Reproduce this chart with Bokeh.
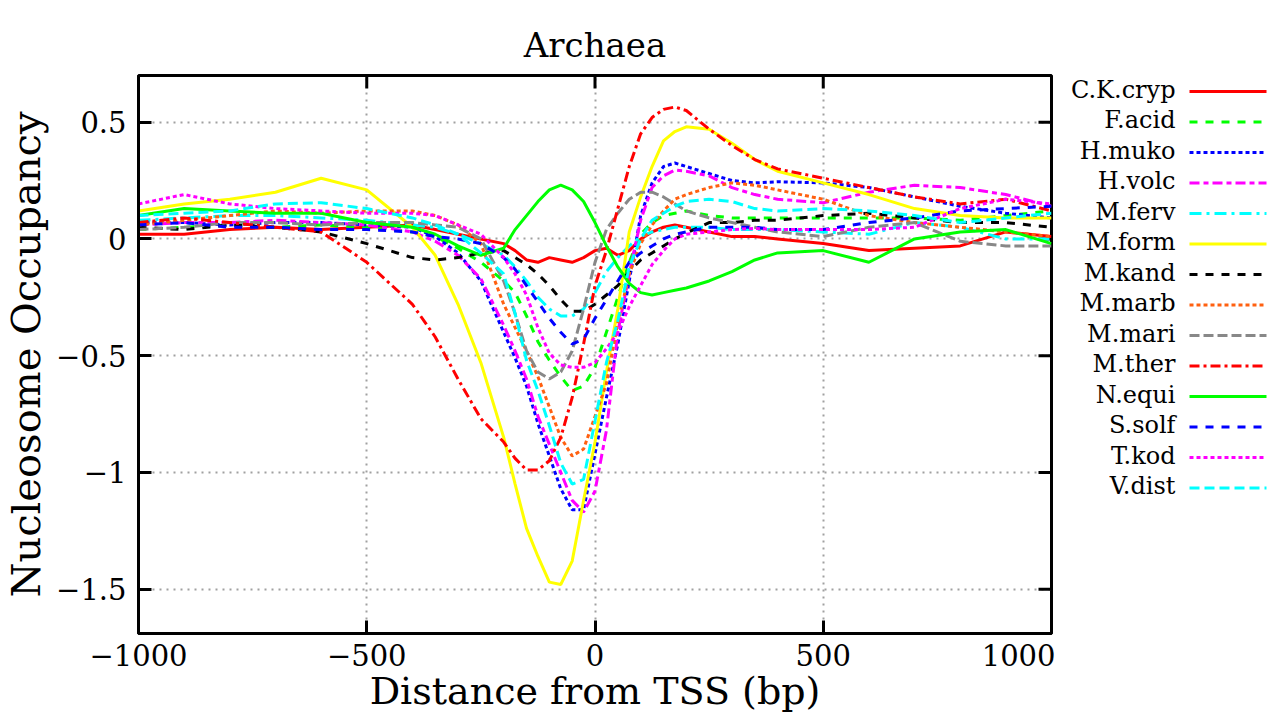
import math
from bokeh.plotting import figure
from bokeh.layouts import row
from bokeh.models import FixedTicker, Range1d
from bokeh.core.properties import value
from bokeh.embed import file_html
from bokeh.resources import INLINE

# ---------------- data ----------------
X = [-1000, -900, -800, -700, -600, -500, -400, -350, -300, -250, -200, -175, -150, -125,
     -100, -75, -50, -25, 0, 25, 50, 75, 100, 125, 150, 175, 200, 250, 300, 350, 400,
     500, 600, 700, 800, 900, 1000]

ck_cryp = [0.02, 0.02, 0.04, 0.05, 0.04, 0.05, 0.06, 0.04, 0.02, 0.00, -0.02, -0.05, -0.09, -0.10,
           -0.08, -0.09, -0.10, -0.08, -0.05, -0.04, -0.07, -0.05, 0.00, 0.03, 0.05, 0.06, 0.05,
           0.03, 0.01, 0.01, 0.00, -0.02, -0.05, -0.04, -0.03, 0.03, 0.01]
f_acid = [0.04, 0.05, 0.06, 0.05, 0.06, 0.05, 0.03, 0.01, -0.04, -0.10, -0.18, -0.23, -0.33, -0.44,
          -0.52, -0.59, -0.65, -0.63, -0.55, -0.40, -0.25, -0.10, 0.02, 0.07, 0.10, 0.11, 0.12,
          0.10, 0.09, 0.09, 0.09, 0.09, 0.09, 0.09, 0.08, 0.10, 0.12]
h_muko = [0.07, 0.07, 0.06, 0.07, 0.07, 0.06, 0.05, 0.01, -0.06, -0.18, -0.40, -0.51, -0.63, -0.79,
          -0.93, -1.07, -1.16, -1.16, -0.92, -0.68, -0.45, -0.18, 0.10, 0.24, 0.31, 0.325, 0.31,
          0.28, 0.25, 0.24, 0.245, 0.24, 0.22, 0.18, 0.14, 0.11, 0.09]
h_volc = [0.06, 0.07, 0.07, 0.08, 0.07, 0.06, 0.03, -0.01, -0.07, -0.17, -0.37, -0.48, -0.60, -0.76,
          -0.88, -1.00, -1.12, -1.17, -1.08, -0.82, -0.40, -0.15, 0.08, 0.22, 0.27, 0.295, 0.29,
          0.27, 0.22, 0.19, 0.17, 0.155, 0.20, 0.23, 0.22, 0.19, 0.14]
m_ferv = [0.08, 0.09, 0.10, 0.10, 0.09, 0.08, 0.06, 0.05, 0.02, -0.02, -0.07, -0.12, -0.18, -0.25,
          -0.30, -0.33, -0.33, -0.30, -0.23, -0.14, -0.08, -0.03, 0.01, 0.03, 0.04, 0.05, 0.05,
          0.05, 0.04, 0.04, 0.04, 0.03, 0.02, 0.07, 0.05, 0.00, 0.00]
m_form = [0.12, 0.15, 0.17, 0.20, 0.26, 0.21, 0.05, -0.07, -0.28, -0.53, -0.85, -1.05, -1.24, -1.36,
          -1.47, -1.48, -1.38, -1.12, -0.87, -0.57, -0.30, 0.03, 0.18, 0.31, 0.42, 0.46, 0.48,
          0.47, 0.41, 0.34, 0.29, 0.24, 0.19, 0.13, 0.10, 0.09, 0.09]
m_kand = [0.05, 0.04, 0.06, 0.05, 0.03, -0.02, -0.08, -0.09, -0.08, -0.06, -0.05, -0.08, -0.11, -0.15,
          -0.20, -0.26, -0.31, -0.31, -0.28, -0.24, -0.20, -0.14, -0.09, -0.06, -0.03, 0.00, 0.025,
          0.07, 0.07, 0.08, 0.08, 0.10, 0.11, 0.09, 0.07, 0.07, 0.05]
m_marb = [0.06, 0.08, 0.10, 0.12, 0.11, 0.12, 0.12, 0.10, 0.06, -0.02, -0.28, -0.38, -0.48, -0.59,
          -0.72, -0.85, -0.93, -0.90, -0.76, -0.62, -0.36, -0.15, -0.02, 0.06, 0.12, 0.17, 0.19,
          0.22, 0.24, 0.23, 0.21, 0.17, 0.10, 0.07, 0.05, 0.03, 0.01]
m_mari = [0.04, 0.05, 0.07, 0.07, 0.06, 0.07, 0.07, 0.06, 0.05, 0.00, -0.18, -0.32, -0.48, -0.57,
          -0.60, -0.57, -0.48, -0.30, -0.10, 0.04, 0.11, 0.17, 0.20, 0.20, 0.18, 0.15, 0.12,
          0.09, 0.07, 0.05, 0.03, 0.01, 0.05, 0.07, -0.01, -0.03, -0.03]
m_ther = [0.07, 0.09, 0.07, 0.05, 0.03, -0.10, -0.28, -0.42, -0.60, -0.77, -0.87, -0.94, -0.99, -0.99,
          -0.95, -0.85, -0.68, -0.45, -0.20, -0.05, 0.13, 0.31, 0.45, 0.52, 0.555, 0.565, 0.55,
          0.47, 0.40, 0.34, 0.30, 0.26, 0.22, 0.18, 0.15, 0.17, 0.12]
n_equi = [0.10, 0.13, 0.12, 0.11, 0.11, 0.07, 0.05, 0.02, -0.03, -0.07, -0.04, 0.04, 0.10, 0.16,
          0.21, 0.23, 0.21, 0.16, 0.07, -0.03, -0.12, -0.19, -0.23, -0.24, -0.23, -0.22, -0.21,
          -0.18, -0.14, -0.09, -0.06, -0.05, -0.10, 0.00, 0.03, 0.04, -0.02]
s_solf = [0.06, 0.07, 0.05, 0.05, 0.04, 0.04, 0.03, 0.01, 0.00, -0.02, -0.08, -0.13, -0.20, -0.27,
          -0.34, -0.40, -0.45, -0.43, -0.34, -0.26, -0.18, -0.10, -0.06, -0.03, 0.00, 0.02, 0.03,
          0.05, 0.05, 0.05, 0.04, 0.04, 0.07, 0.09, 0.12, 0.13, 0.14]
t_kod = [0.15, 0.19, 0.15, 0.13, 0.12, 0.11, 0.11, 0.10, 0.06, 0.02, -0.08, -0.15, -0.24, -0.38,
         -0.49, -0.54, -0.55, -0.55, -0.53, -0.47, -0.40, -0.29, -0.20, -0.11, -0.05, 0.00, 0.02,
         0.03, 0.04, 0.045, 0.04, 0.04, 0.04, 0.05, 0.13, 0.17, 0.15]
v_dist = [0.10, 0.11, 0.12, 0.15, 0.155, 0.13, 0.09, 0.06, 0.02, -0.06, -0.15, -0.32, -0.52, -0.65,
          -0.80, -0.96, -1.05, -1.03, -0.78, -0.53, -0.35, -0.12, 0.00, 0.08, 0.11, 0.14, 0.16,
          0.17, 0.16, 0.13, 0.12, 0.13, 0.12, 0.10, 0.07, 0.09, 0.11]

NAMES = ["C.K.cryp", "F.acid", "H.muko", "H.volc", "M.ferv", "M.form", "M.kand",
         "M.marb", "M.mari", "M.ther", "N.equi", "S.solf", "T.kod", "V.dist"]
SERIES = [ck_cryp, f_acid, h_muko, h_volc, m_ferv, m_form, m_kand,
          m_marb, m_mari, m_ther, n_equi, s_solf, t_kod, v_dist]
COLORS = ["#ff0000", "#00ff00", "#0000ff", "#ff00ff", "#00ffff", "#ffff00", "#000000",
          "#ff6010", "#888888", "#ff0000", "#00ff00", "#0000ff", "#ff00ff", "#00ffff"]
DASHES = ["solid", "8 8", "4 3", "10 4 5 4", "12 5 3 5", "solid", "8 8",
          "4 3", "10 4", "10 4 3 4", "solid", "8 8", "4 3", "10 5"]

TITLE = "Archaea"
X_MIN, X_MAX = -1000, 1000
Y_MIN, Y_MAX = -1.69, 0.70
X_TICKS = [-1000, -500, 0, 500, 1000]
X_LABELS = ["\u22121000", "\u2212500", "0", "500", "1000"]
Y_TICKS = [0.5, 0, -0.5, -1, -1.5]
Y_LABELS = ["0.5", "0", "\u22120.5", "\u22121", "\u22121.5"]

FONT = "DejaVu Serif"

# ---------------- main plot ----------------
p = figure(width=1055, height=722, x_range=Range1d(X_MIN, X_MAX), y_range=Range1d(Y_MIN, Y_MAX),
           output_backend="svg", toolbar_location=None, title=TITLE,
           min_border_left=138, min_border_right=4, min_border_top=75, min_border_bottom=89)
p.background_fill_color = "white"
p.border_fill_color = "white"
p.outline_line_color = "black"
p.outline_line_width = 3

p.title.align = "center"
p.title.vertical_align = "top"
p.title.text_font = FONT
p.title.text_font_size = "34px"
p.title.text_font_style = "normal"
p.title.text_color = "black"
p.title.standoff = 18

xax = p.below[0]
yax = p.left[0]
for ax in (xax, yax):
    ax.axis_line_width = 3
    ax.axis_line_color = "black"
    ax.major_tick_in = 13
    ax.major_tick_out = 0
    ax.major_tick_line_width = 3
    ax.minor_tick_line_color = None
    ax.major_label_text_font = FONT
    ax.major_label_text_font_size = "29px"
    ax.major_label_text_color = "black"
    ax.axis_label_text_font = FONT
    ax.axis_label_text_font_style = "normal"
    ax.axis_label_text_color = "black"

xax.ticker = FixedTicker(ticks=X_TICKS)
xax.major_label_overrides = dict(zip(X_TICKS, X_LABELS))
xax.axis_label = "Distance from TSS (bp)"
xax.axis_label_text_font_size = "38px"
xax.major_label_standoff = 10
xax.axis_label_standoff = 0
yax.ticker = FixedTicker(ticks=Y_TICKS)
yax.major_label_overrides = dict(zip(Y_TICKS, Y_LABELS))
yax.axis_label = "Nucleosome Occupancy"
yax.axis_label_text_font_size = "40px"
yax.major_label_standoff = 12
yax.axis_label_standoff = 4

# mirrored inward ticks on the right and top edges (screen-length rays)
p.ray(x=[X_MAX] * len(Y_TICKS), y=Y_TICKS, length=13, length_units="screen",
      angle=math.pi, line_color="black", line_width=3)
p.ray(x=X_TICKS, y=[Y_MAX] * len(X_TICKS), length=13, length_units="screen",
      angle=-math.pi / 2, line_color="black", line_width=3)

p.xgrid.ticker = FixedTicker(ticks=[-500, 0, 500])
p.ygrid.ticker = FixedTicker(ticks=Y_TICKS)
for g in (p.xgrid[0], p.ygrid[0]):
    g.grid_line_color = "#a0a0a0"
    g.grid_line_dash = "2 5"
    g.grid_line_width = 2

for ys, c, d in zip(SERIES, COLORS, DASHES):
    p.line(X, ys, line_color=c, line_dash=d, line_width=3)

# ---------------- legend panel ----------------
LW = 219
leg = figure(width=LW, height=722, x_range=Range1d(0, LW), y_range=Range1d(633, 75),
             output_backend="svg", toolbar_location=None, x_axis_type=None, y_axis_type=None,
             min_border_left=0, min_border_right=0, min_border_top=75, min_border_bottom=89)
leg.outline_line_color = None
leg.grid.visible = False
leg.title.text_font_size = "0px"
leg.title.standoff = 0

row_y = [89 + i * 30.5 for i in range(len(NAMES))]
leg.text(x=[120] * len(NAMES), y=row_y, text=NAMES, text_align="right", text_baseline="middle",
         text_font=value(FONT), text_font_size="24px", text_color="black")
for yy, c, d in zip(row_y, COLORS, DASHES):
    leg.line(x=[134, 211], y=[yy + 2, yy + 2], line_color=c, line_dash=d, line_width=3)

layout = row(p, leg)
open("out.html", "w").write(file_html(layout, INLINE))
